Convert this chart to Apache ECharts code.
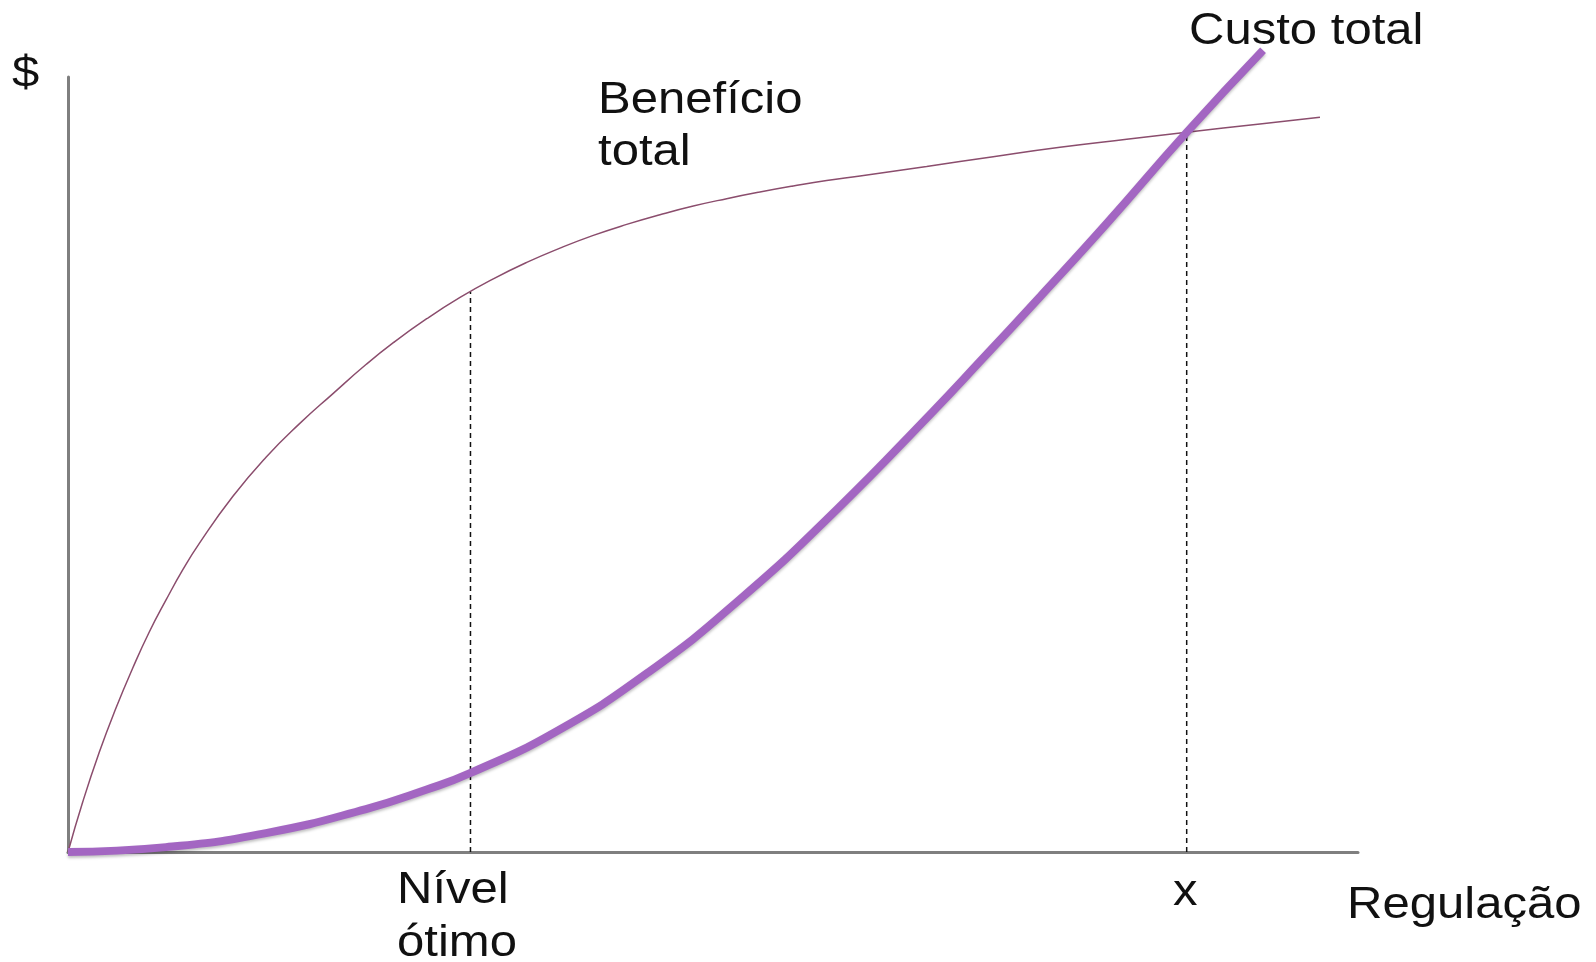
<!DOCTYPE html>
<html>
<head>
<meta charset="utf-8">
<title>Benefício total x Custo total</title>
<script src="https://cdn.jsdelivr.net/npm/echarts/dist/echarts.min.js"></script>
<style>
  html, body { margin: 0; padding: 0; background: #fff; }
  #chart { width: 1596px; height: 962px; }
</style>
</head>
<body>
<div id="chart"></div>
<script>
// regulation level (0-100) and $ (0-100)
const benefitX = [0, 1.14, 2.43, 3.72, 5.02, 6.30, 7.60, 8.89, 10.18, 12.77, 15.35, 17.93, 20.52, 23.10, 25.22, 27.81, 30.39, 32.97, 35.56, 38.14, 40.72, 43.31, 45.89, 48.47, 51.06, 53.64, 56.22, 58.81, 61.40, 66.56, 71.72, 76.90, 82.07, 86.72, 92.40, 97.05];
const benefitY = [0, 6.45, 12.90, 18.58, 23.74, 28.39, 32.52, 36.40, 39.83, 45.87, 50.94, 55.24, 59.12, 62.90, 65.72, 68.81, 71.56, 73.96, 76.08, 77.92, 79.56, 80.98, 82.23, 83.35, 84.30, 85.16, 85.94, 86.65, 87.23, 88.45, 89.72, 90.93, 91.96, 92.86, 93.94, 94.80];

const costX = [0, 7.60, 15.35, 23.10, 27.81, 31.12, 37.71, 45.02, 52.34, 59.65, 66.98, 70.62, 75.39, 80.52, 86.72, 92.64];
const costY = [0, 0.63, 2.44, 5.54, 8.06, 10.14, 15.43, 23.23, 32.97, 44.28, 56.72, 63.15, 71.72, 81.10, 92.86, 103.45];

// dashed guides: [x, height of benefit curve]
const optimum = [31.2, 72.3];
const crossing = [86.72, 92.86];

const zip = (xs, ys) => xs.map((x, i) => [x, ys[i]]);

const chart = echarts.init(document.getElementById("chart"));

const font = '45px "Liberation Sans", Arial, sans-serif';
function label(text, x, y) {
  return {
    type: "text",
    x: x,
    y: y,
    scaleX: 1.09,
    style: {
      text: text,
      font: font,
      fill: "#111",
      textAlign: "left",
      textVerticalAlign: "middle",
    },
  };
}

const axisCommon = {
  type: "value",
  min: 0,
  max: 100,
  axisLine: {
    show: true,
    onZero: false,
    lineStyle: { color: "#7f7f7f", width: 3 },
  },
  axisTick: { show: false },
  axisLabel: { show: false },
  splitLine: { show: false },
};

chart.setOption({
  animation: false,
  backgroundColor: "#fff",
  grid: { left: 68, right: 238, top: 77, bottom: 110 },
  xAxis: axisCommon,
  yAxis: axisCommon,
  series: [
    {
      name: "dashed optimum",
      type: "line",
      data: [[optimum[0], 0], optimum],
      symbol: "none",
      silent: true,
      lineStyle: { color: "#111", width: 1.5, type: [5, 4] },
    },
    {
      name: "dashed x",
      type: "line",
      data: [[crossing[0], 0], crossing],
      symbol: "none",
      silent: true,
      lineStyle: { color: "#111", width: 1.5, type: [5, 4] },
    },
    {
      name: "Benefício total",
      type: "line",
      data: zip(benefitX, benefitY),
      smooth: 0.5,
      symbol: "none",
      lineStyle: { color: "#8b4d6d", width: 1.5 },
    },
    {
      name: "Custo total",
      type: "line",
      data: zip(costX, costY),
      smooth: 0.5,
      symbol: "none",
      clip: false,
      lineStyle: {
        color: "#a366c2",
        width: 8,
        shadowColor: "rgba(0,0,0,0.25)",
        shadowBlur: 3,
        shadowOffsetY: 2,
      },
    },
  ],
  graphic: [
    label("$", 12, 75),
    label("Custo total", 1189, 32),
    label("Benefício", 598, 101),
    label("total", 598, 153),
    label("Nível", 397, 891),
    label("ótimo", 397, 944),
    label("x", 1173, 893),
    label("Regulação", 1347, 906),
  ],
});
</script>
</body>
</html>
